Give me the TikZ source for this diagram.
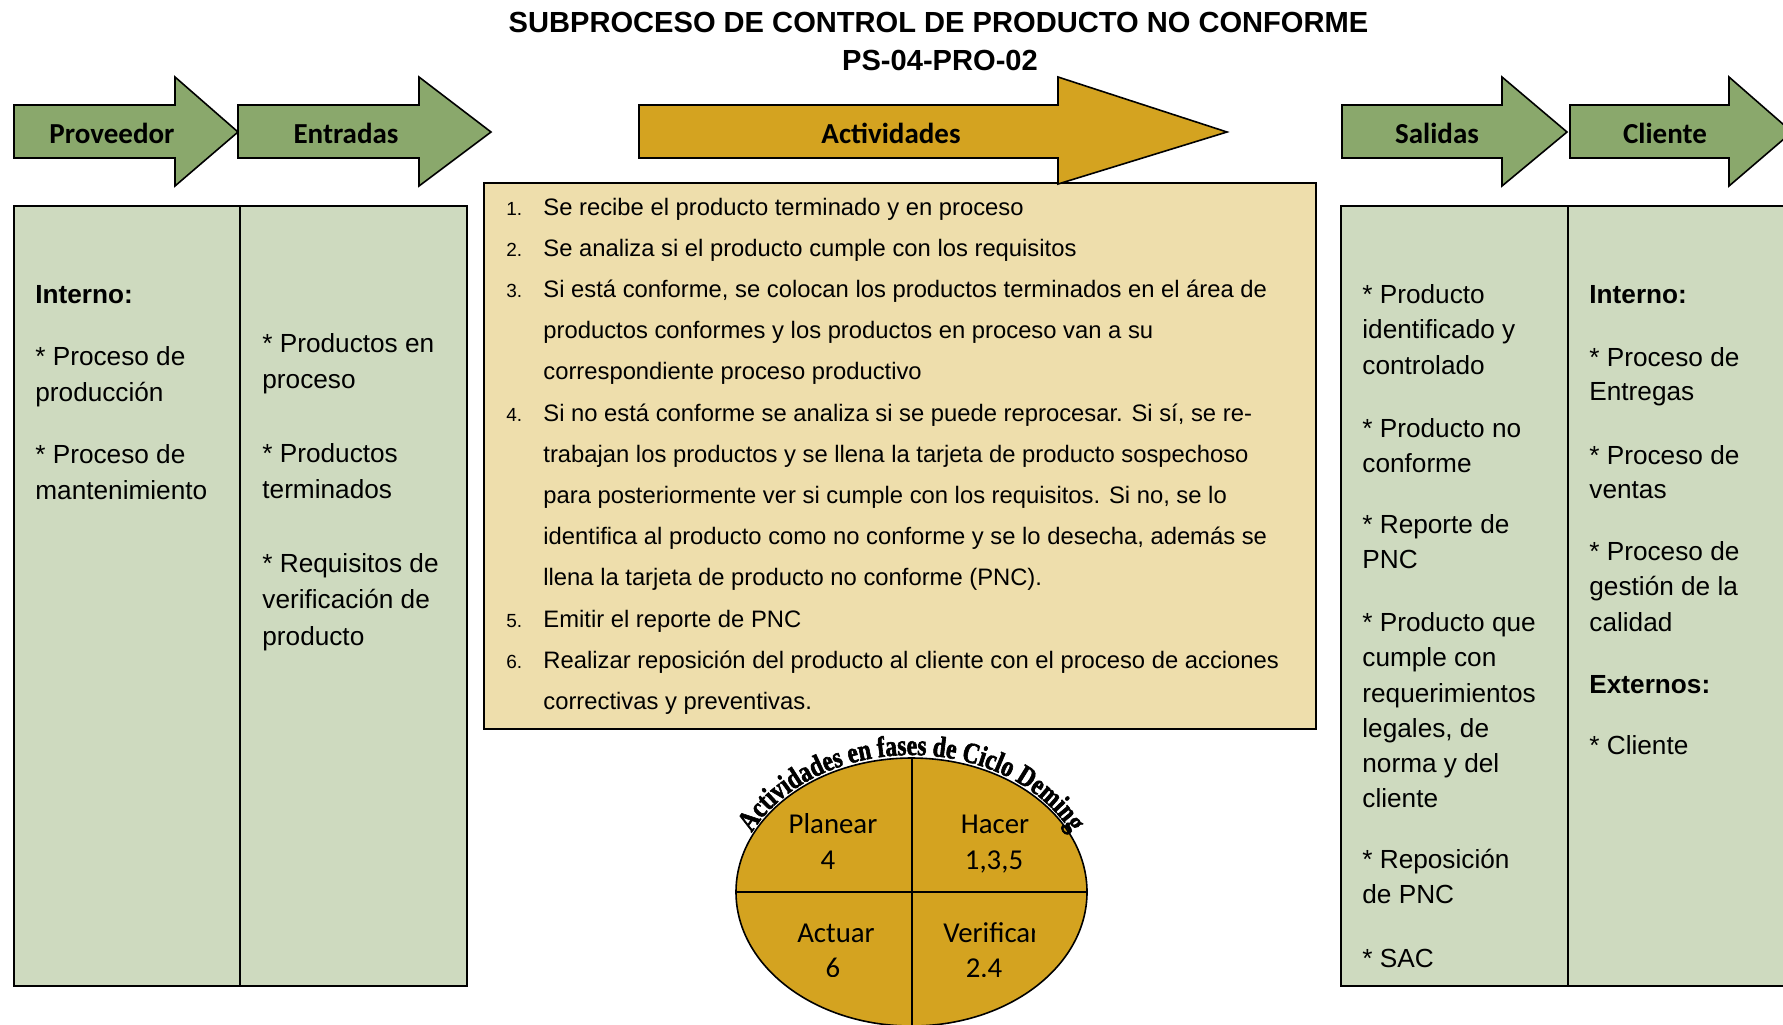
\documentclass[tikz,border=0pt]{standalone}
\usepackage{fontspec}
\setmainfont{Liberation Sans}
\newfontfamily\calibrifont{Carlito}
\newfontfamily\arcfont[FakeStretch=0.8, FakeBold=2]{Liberation Serif}
\usetikzlibrary{decorations.text}
\definecolor{arrowgreen}{RGB}{138,168,108}
\definecolor{boxgreen}{RGB}{206,218,191}
\definecolor{goldfill}{RGB}{212,163,32}
\definecolor{tanfill}{RGB}{238,222,172}
\tikzset{
  garrow/.style={draw=black, line width=0.8pt, fill=arrowgreen, line join=miter},
  yarrow/.style={draw=black, line width=0.8pt, fill=goldfill, line join=miter},
  colbox/.style={draw=black, line width=1pt, fill=boxgreen},
  arrowlabel/.style={anchor=base, inner sep=0pt, font=\calibrifont\bfseries\fontsize{14.5}{17}\selectfont},
  sidetext/.style={anchor=base west, inner sep=0pt, font=\fontsize{13.1}{15}\selectfont},
  acttext/.style={anchor=base west, inner sep=0pt, font=\fontsize{11.9}{14}\selectfont},
  actnum/.style={anchor=base west, inner sep=0pt, font=\fontsize{9.5}{11}\selectfont},
  titletext/.style={anchor=base, inner sep=0pt, font=\bfseries\fontsize{14.55}{17}\selectfont},
  phasetext/.style={anchor=base, inner sep=0pt, font=\calibrifont\fontsize{14.4}{16}\selectfont},
}
\begin{document}
\begin{tikzpicture}[x=0.5pt, y=-0.5pt]
\useasboundingbox (0,0) rectangle (1783,1024);
\clip (0,0) rectangle (1783,1024);
\fill[white] (0,0) rectangle (1783,1024);

% title
\node[titletext] (title1) at (938.5,32) {SUBPROCESO DE CONTROL DE PRODUCTO NO CONFORME};
\node[titletext] (title2) at (940,70) {PS-04-PRO-02};

% column boxes
\draw[colbox] (14,206) rectangle (240,986);
\draw[colbox] (240,206) rectangle (467,986);
\draw[colbox] (1341,206) rectangle (1568,986);
\draw[colbox] (1568,206) rectangle (1800,986);

% activities box
\draw[draw=black, line width=1pt, fill=tanfill] (484,183) rectangle (1316,729);

% arrows
\draw[garrow] (14,105) -- (175,105) -- (175,77) -- (238,132) -- (175,186) -- (175,158) -- (14,158) -- cycle;
\draw[garrow] (238,105) -- (419,105) -- (419,77) -- (491,132) -- (419,186) -- (419,158) -- (238,158) -- cycle;
\draw[yarrow] (639,105) -- (1058,105) -- (1058,77) -- (1227,132) -- (1058,184) -- (1058,158) -- (639,158) -- cycle;
\draw[garrow] (1342,105) -- (1502,105) -- (1502,77) -- (1567,132) -- (1502,186) -- (1502,158) -- (1342,158) -- cycle;
\draw[garrow] (1570,105) -- (1729,105) -- (1729,77) -- (1792,132) -- (1729,186) -- (1729,158) -- (1570,158) -- cycle;

\node[arrowlabel] (lprov) at (112,143) {Proveedor};
\node[arrowlabel] (lent) at (346,143) {Entradas};
\node[arrowlabel] (lact) at (891,143) {Actividades};
\node[arrowlabel] (lsal) at (1437,143) {Salidas};
\node[arrowlabel] (lcli) at (1665,143) {Cliente};

% Proveedor column
\foreach \y/\t [count=\i] in {303/{\textbf{Interno:}}, 365/{* Proceso de}, 401/{producción}, 463/{* Proceso de}, 499/{mantenimiento}}
  \node[sidetext] (prov\i) at (35,\y) {\t};

% Entradas column
\foreach \y/\t [count=\i] in {352/{* Productos en}, 388/{proceso}, 462/{* Productos}, 498/{terminados}, 572/{* Requisitos de}, 608/{verificación de}, 645/{producto}}
  \node[sidetext] (ent\i) at (262,\y) {\t};

% Salidas column
\foreach \y/\t [count=\i] in {303/{* Producto}, 338/{identificado y}, 374/{controlado}, 437/{* Producto no}, 472/{conforme}, 533/{* Reporte de}, 568/{PNC}, 631/{* Producto que}, 666/{cumple con}, 702/{requerimientos}, 737/{legales, de}, 772/{norma y del}, 807/{cliente}, 868/{* Reposición}, 903/{de PNC}, 967/{* SAC}}
  \node[sidetext] (sal\i) at (1362,\y) {\t};

% Cliente column
\foreach \y/\t [count=\i] in {303/{\textbf{Interno:}}, 366/{* Proceso de}, 400/{Entregas}, 464/{* Proceso de}, 498/{ventas}, 560/{* Proceso de}, 595/{gestión de la}, 631/{calidad}, 693/{\textbf{Externos:}}, 754/{* Cliente}}
  \node[sidetext] (cli\i) at (1589,\y) {\t};

% activities list
\foreach \y/\t [count=\i] in {215/1., 256.2/2., 297.4/3., 421/4., 627/5., 668.2/6.}
  \node[actnum] (num\i) at (506,\y) {\t};
\foreach \t [count=\i] in {
  {Se recibe el producto terminado y en proceso},
  {Se analiza si el producto cumple con los requisitos},
  {Si está conforme, se colocan los productos terminados en el área de},
  {productos conformes y los productos en proceso van a su},
  {correspondiente proceso productivo},
  {Si no está conforme se analiza si se puede reprocesar. Si sí, se re-},
  {trabajan los productos y se llena la tarjeta de producto sospechoso},
  {para posteriormente ver si cumple con los requisitos. Si no, se lo},
  {identifica al producto como no conforme y se lo desecha, además se},
  {llena la tarjeta de producto no conforme (PNC).},
  {Emitir el reporte de PNC},
  {Realizar reposición del producto al cliente con el proceso de acciones},
  {correctivas y preventivas.}}
  \node[acttext] (act\i) at (543,{215+(\i-1)*41.2}) {\t};

% Deming ellipse
\draw[fill=goldfill, line width=0.8pt] (911.5,892) ellipse [x radius=175.5, y radius=134];
\draw[line width=0.8pt] (736,892) -- (1087,892);
\draw[line width=0.8pt] (912,758) -- (912,1030);

\node[phasetext] (planear) at (833,833) {Planear};
\node[phasetext] (planearn) at (828,869) {4};
\node[phasetext] (hacer) at (995,833) {Hacer};
\node[phasetext] (hacern) at (994,869) {1,3,5};
\node[phasetext] (actuar) at (836,942) {Actuar};
\begin{scope}
  \clip (700,900) rectangle (1034,976.5);
  \node[phasetext, anchor=base west] (verif) at (943,942) {Verificar};
  \node[phasetext] (actuarn) at (833,977.5) {6};
  \node[phasetext] (verifn) at (984,977.5) {2.4};
\end{scope}

\path[decorate, decoration={text along path, text align=center,
  text={|\arcfont\bfseries\fontsize{14.6}{17}\selectfont|Actividades en fases de Ciclo Deming}}]
  (911.5,892) ++(196:177 and 137) arc[start angle=196, end angle=344, x radius=177, y radius=137];
\end{tikzpicture}
\end{document}
